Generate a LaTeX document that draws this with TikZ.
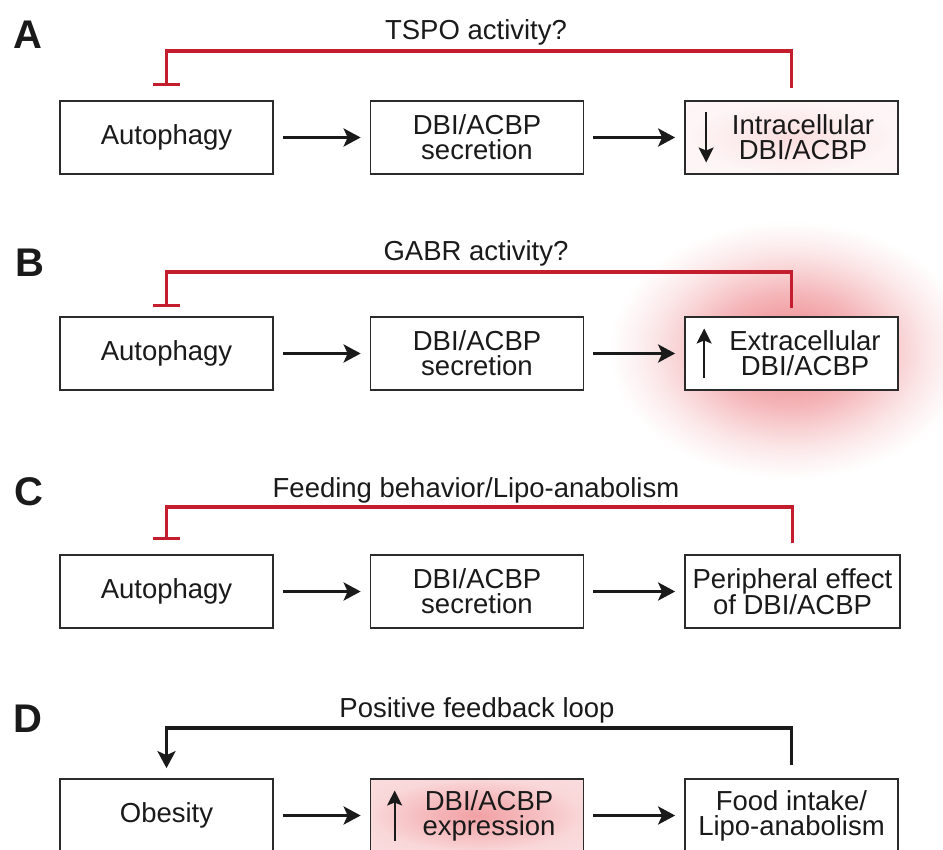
\documentclass[tikz,border=0pt]{standalone}
\usepackage{fontspec}
\setmainfont{Liberation Sans}
\usetikzlibrary{arrows.meta,calc}
\definecolor{inhred}{HTML}{C41E2E}
\definecolor{boxline}{HTML}{2B2B2B}
\definecolor{ink}{HTML}{1A1A1A}
\definecolor{glowc}{HTML}{E4434B}
\pgfdeclareradialshading{bigglow}{\pgfpoint{0bp}{0bp}}{color(0bp)=(glowc!60!white); color(6bp)=(glowc!52!white); color(11bp)=(glowc!38!white); color(15bp)=(glowc!24!white); color(18.5bp)=(glowc!13!white); color(21.5bp)=(glowc!6!white); color(24.5bp)=(white); color(50bp)=(white)}
\pgfdeclareradialshading{softbox}{\pgfpoint{0bp}{0bp}}{color(0bp)=(glowc!18!white); color(12bp)=(glowc!11!white); color(25bp)=(glowc!5!white); color(50bp)=(glowc!4!white)}
\pgfdeclareradialshading{pinkbox}{\pgfpoint{0bp}{0bp}}{color(0bp)=(glowc!50!white); color(12bp)=(glowc!37!white); color(25bp)=(glowc!21!white); color(50bp)=(glowc!15!white)}
\begin{document}
\begin{tikzpicture}[x=1pt,y=-1pt,
  box/.style={draw=boxline, line width=1.7pt, minimum width=213pt, minimum height=73pt, inner sep=0pt, fill=white, align=center, text=ink, font=\fontsize{27.5}{25}\selectfont},
  lbl/.style={font=\fontsize{27.5}{25}\selectfont, text=ink, align=center, inner sep=0pt},
  flow/.style={line width=3.6pt, draw=ink, -{Stealth[length=17pt,width=18pt,inset=4pt]}, shorten <=9pt, shorten >=9pt},
  loop/.style={line width=3.6pt, draw=ink, -{Stealth[length=17pt,width=18pt,inset=4pt]}},
  inhib/.style={line width=3.4pt, draw=inhred, -{Bar[width=27pt]}},
  updown/.style={line width=2pt, draw=ink, -{Stealth[length=15pt,width=15pt,inset=3pt]}},
  panel/.style={font=\fontsize{40}{40}\bfseries\selectfont, anchor=base west, text=ink, inner sep=0pt},
  note/.style={font=\fontsize{27.5}{30}\selectfont, anchor=base, text=ink, inner sep=0pt}
]
\useasboundingbox (0,0) rectangle (943,850);

% glow behind panel B
\shade[shading=bigglow] (790,350) ellipse [x radius=185, y radius=132];

% ---------- Panel A ----------
\node[panel] (pA) at (13,49) {A};
\node[box] (a1) at (166.5,137.5) {Autophagy};
\node[box] (a2) at (477,137.5) {DBI/ACBP\\secretion};
\node[box, shade, shading=softbox] (a3) at (791.5,137.5) {};
\node[lbl] (a3t) at (803,137.5) {Intracellular\\DBI/ACBP};
\draw[updown] ($(a3.west)+(22,-25)$) -- ($(a3.west)+(22,25)$);
\draw[flow] (a1.east) -- (a2.west);
\draw[flow] (a2.east) -- (a3.west);
\draw[inhib] ([yshift=12pt]a3.north) -- ([yshift=49pt]a3.north) -| ([yshift=14pt]a1.north);
\node[note] (nA) at (476,40) {TSPO activity?};

% ---------- Panel B ----------
\node[panel] (pB) at (15,277) {B};
\node[box] (b1) at (166.5,353.5) {Autophagy};
\node[box] (b2) at (477,353.5) {DBI/ACBP\\secretion};
\node[box] (b3) at (791.5,353.5) {};
\node[lbl] (b3t) at (805,353.5) {Extracellular\\DBI/ACBP};
\draw[updown] ($(b3.west)+(20,25)$) -- ($(b3.west)+(20,-25)$);
\draw[flow] (b1.east) -- (b2.west);
\draw[flow] (b2.east) -- (b3.west);
\draw[inhib] ([yshift=8pt]b3.north) -- ([yshift=44pt]b3.north) -| ([yshift=9pt]b1.north);
\node[note] (nB) at (476,261) {GABR activity?};

% ---------- Panel C ----------
\node[panel] (pC) at (14,505) {C};
\node[box] (c1) at (166.5,591.5) {Autophagy};
\node[box] (c2) at (477,591.5) {DBI/ACBP\\secretion};
\node[box, minimum width=215pt] (c3) at (792.5,591.5) {Peripheral effect\\of DBI/ACBP};
\draw[flow] (c1.east) -- (c2.west);
\draw[flow] (c2.east) -- (c3.west);
\draw[inhib] ([yshift=11pt]c3.north) -- ([yshift=47pt]c3.north) -| ([yshift=14pt]c1.north);
\node[note] (nC) at (476,497) {Feeding behavior/Lipo-anabolism};

% ---------- Panel D ----------
\node[panel] (pD) at (13,732) {D};
\node[box] (d1) at (166.5,815.5) {Obesity};
\node[box, shade, shading=pinkbox] (d2) at (477,815.5) {};
\node[lbl] (d2t) at (489,815.5) {DBI/ACBP\\expression};
\draw[updown] ($(d2.west)+(25,25)$) -- ($(d2.west)+(25,-25)$);
\node[box] (d3) at (791.5,815.5) {Food intake/\\Lipo-anabolism};
\draw[flow] (d1.east) -- (d2.west);
\draw[flow] (d2.east) -- (d3.west);
\draw[loop] ([yshift=13pt]d3.north) -- ([yshift=50pt]d3.north) -| ([yshift=10pt]d1.north);
\node[note] (nD) at (477,717) {Positive feedback loop};
\end{tikzpicture}
\end{document}
